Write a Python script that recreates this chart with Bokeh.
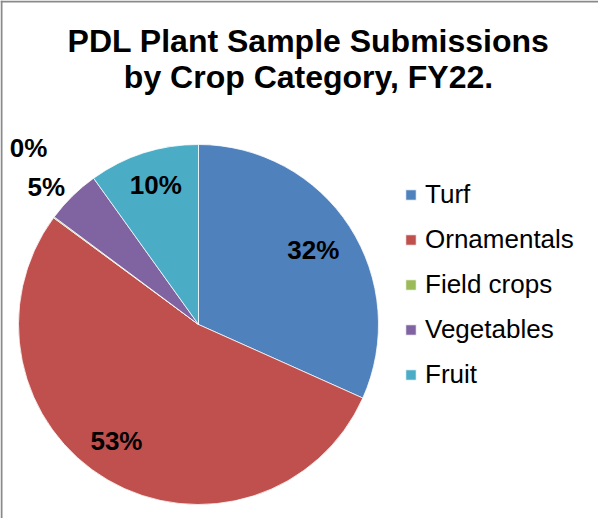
import math
from bokeh.plotting import figure
from bokeh.models import ColumnDataSource, Range1d, Legend, LegendItem, Label, Span
from bokeh.core.properties import value
from bokeh.embed import file_html
from bokeh.resources import INLINE

# ---- data ----
categories = ["Turf", "Ornamentals", "Field crops", "Vegetables", "Fruit"]
shares = [31.7, 53.4, 0.1, 4.9, 9.9]          # percent of submissions
colors = ["#4F81BD", "#C0504D", "#9BBB59", "#8064A2", "#4BACC6"]
title_lines = ["PDL Plant Sample Submissions", "by Crop Category, FY22."]

# ---- layout (pixels) ----
W, H = 598, 518
cx, cy, R = 198, 194, 180
label_radius = [0.76, 0.79, 1.36, 1.14, 0.81]
label_angle_shift = [0.0, 5.0, 9.5, -3.4, 0.8]   # degrees, clockwise
FONT = "Liberation Sans"

total = sum(shares)
starts, ends, lx, ly, texts = [], [], [], [], []
cum = 0.0
for i, s in enumerate(shares):
    a0 = cum / total * 2 * math.pi
    a1 = (cum + s) / total * 2 * math.pi
    starts.append(math.pi / 2 - a0)
    ends.append(math.pi / 2 - a1)
    mid = (a0 + a1) / 2 + math.radians(label_angle_shift[i])
    lx.append(cx + R * label_radius[i] * math.sin(mid))
    ly.append(cy + R * label_radius[i] * math.cos(mid))
    texts.append(f"{round(s / total * 100):d}%")
    cum += s

src = ColumnDataSource(dict(cat=categories, start=starts, end=ends, color=colors,
                            lx=lx, ly=ly, txt=texts))

p = figure(width=W, height=H, x_range=Range1d(0, W), y_range=Range1d(0, H),
           x_axis_type=None, y_axis_type=None, toolbar_location=None,
           output_backend="svg", min_border=0)
p.grid.visible = False
p.outline_line_color = None
p.background_fill_color = "white"
p.border_fill_color = "white"

# chart border (left & top)
p.add_layout(Span(location=1, dimension="height", line_color="#8a8a8a", line_width=2))
p.add_layout(Span(location=H - 1, dimension="width", line_color="#8a8a8a", line_width=2))

r = p.wedge(x=cx, y=cy, radius=R, radius_units="screen", start_angle="start", end_angle="end",
            direction="clock", fill_color="color", line_color="white", line_width=0.75,
            source=src)

p.text(x="lx", y="ly", text="txt", source=src, text_font=value(FONT),
       text_font_size="26px", text_font_style="bold", text_color="black",
       text_align="center", text_baseline="middle")

# title
for k, line in enumerate(title_lines):
    p.add_layout(Label(x=308, y=478 - 36 * k, text=line, text_align="center",
                       text_baseline="alphabetic", text_font=FONT, text_font_size="32px",
                       text_font_style="bold", text_color="black"))

legend = Legend(items=[LegendItem(label=c, renderers=[r], index=i) for i, c in enumerate(categories)],
                location=(404, 128), orientation="vertical",
                glyph_width=13, glyph_height=13, label_height=29, spacing=14,
                label_standoff=8, padding=0, margin=0,
                border_line_color=None, background_fill_alpha=0,
                label_text_font=FONT, label_text_font_size="26px", label_text_color="black")
p.add_layout(legend, "center")

open("out.html", "w").write(file_html(p, INLINE))
